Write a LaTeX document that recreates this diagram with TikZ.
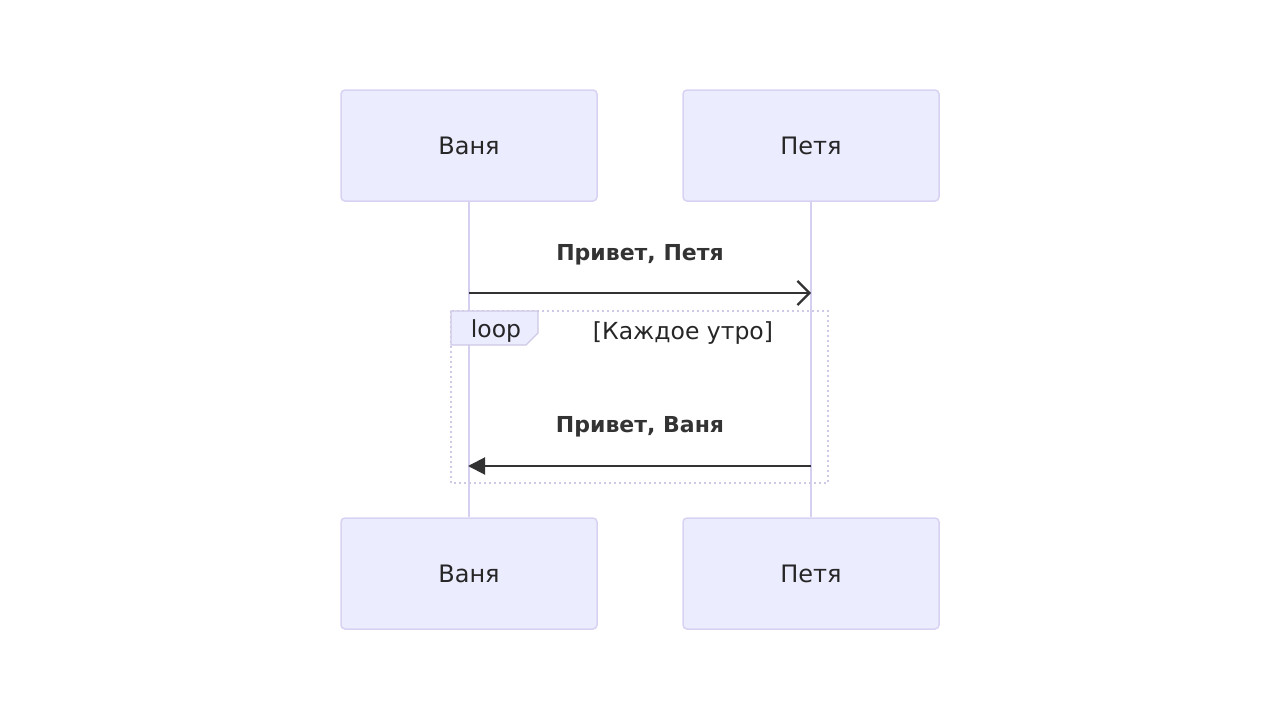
\documentclass[tikz,border=0pt]{standalone}
\usepackage{fontspec}
\setmainfont{DejaVu Sans}
\usetikzlibrary{arrows.meta}
\definecolor{actfill}{HTML}{ECECFF}
\definecolor{actline}{HTML}{D8D2F2}
\definecolor{lifeline}{HTML}{D6D0F0}
\definecolor{txt}{HTML}{333333}
\definecolor{loopline}{HTML}{CFC8E6}
\tikzset{
  actor/.style={draw=actline, line width=1.5pt, fill=actfill, rounded corners=4pt, minimum width=256pt, minimum height=111pt, font=\fontsize{24}{28}\selectfont, text=black!85},
  msglabel/.style={font=\bfseries\fontsize{22}{26}\selectfont, text=txt},
  looptext/.style={font=\fontsize{23.5}{28}\selectfont, text=black!85},
  msg/.style={draw=txt, line width=2pt},
  life/.style={draw=lifeline, line width=2pt},
}
\begin{document}
\begin{tikzpicture}[x=1pt,y=-1pt]
\useasboundingbox (0,0) rectangle (1280,720);
\node[actor] (vt) at (469,145.5) {Ваня};
\node[actor] (pt) at (811,145.5) {Петя};
\node[actor] (vb) at (469,573.5) {Ваня};
\node[actor] (pb) at (811,573.5) {Петя};
\draw[life] (vt.south) -- (vb.north);
\draw[life] (pt.south) -- (pb.north);
% loop frame
\draw[loopline, line width=1.6pt, dash pattern=on 2pt off 3pt] (451,311) rectangle (828,483);
\draw[loopline, line width=1.2pt, fill=actfill] (451,311) -- (538,311) -- (538,333) -- (526,345) -- (451,345) -- cycle;
\node[looptext] (lp) at (496,331) {loop};
\node[looptext] (cond) at (683,333) {[Каждое утро]};
% messages
\coordinate (m1s) at (469,293);
\coordinate (m1e) at (811,293);
\node[msglabel] (l1) at (640,255) {Привет, Петя};
\draw[msg, -{Straight Barb[length=12pt, width=24pt, line width=2.2pt]}] (m1s) -- (m1e);
\coordinate (m2s) at (811,466);
\coordinate (m2e) at (468,466);
\node[msglabel] (l2) at (640,427) {Привет, Ваня};
\draw[msg, -{Triangle[length=17pt, width=17pt]}] (m2s) -- (m2e);
\end{tikzpicture}
\end{document}
